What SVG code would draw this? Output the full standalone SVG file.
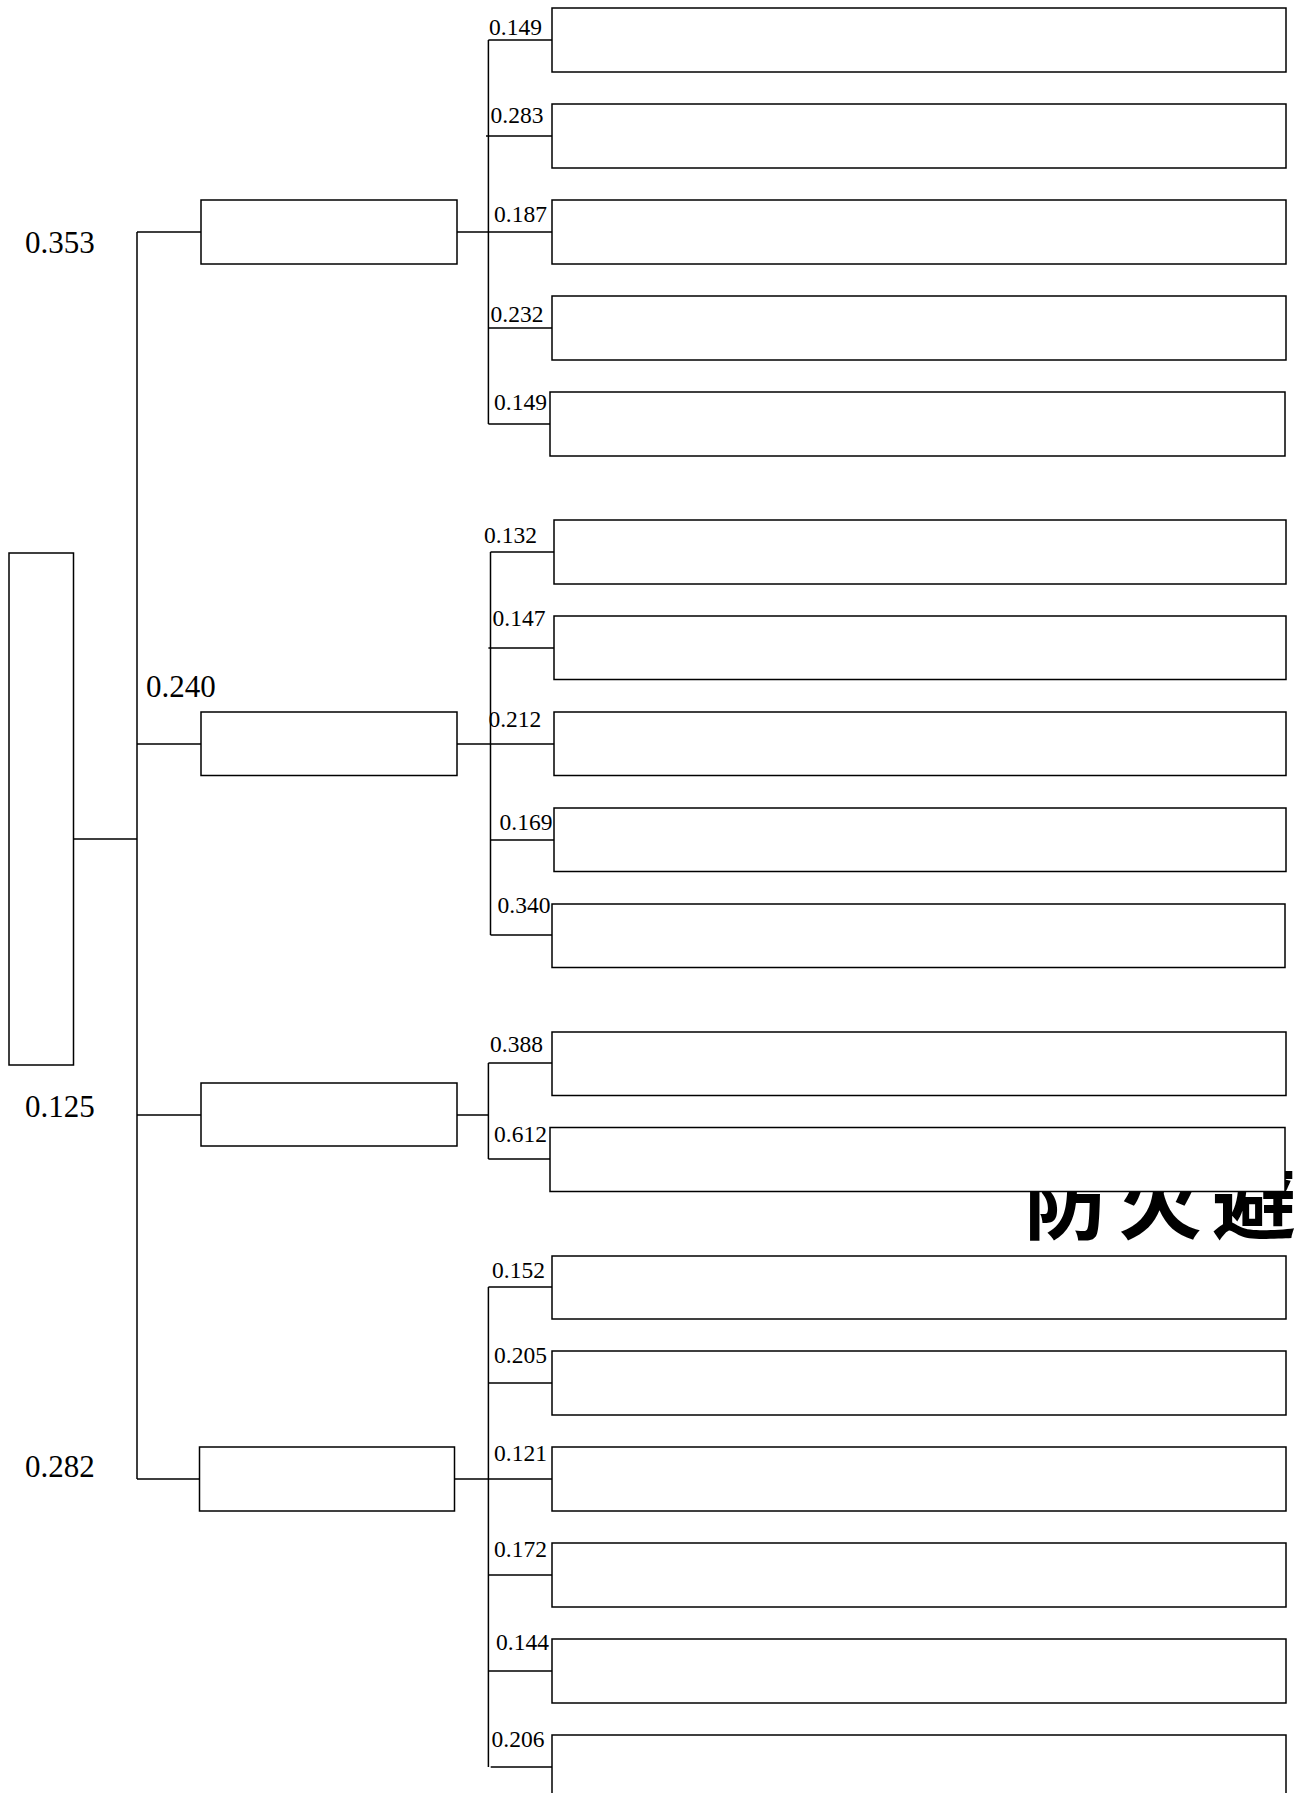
<svg xmlns="http://www.w3.org/2000/svg" width="1296" height="1793" viewBox="0 0 1296 1793">
<style>
.box{fill:#fff;stroke:#000;stroke-width:1.5}
.ln{fill:none;stroke:#000;stroke-width:1.5}
.s{font-family:"Liberation Serif","Times New Roman",serif;font-size:23.5px;fill:#000}
.b{font-family:"Liberation Serif","Times New Roman",serif;font-size:31px;fill:#000}
.cjk{font-family:"Noto Sans CJK SC","Noto Sans CJK JP",sans-serif;font-size:84px;font-weight:700;fill:#000;letter-spacing:10px}
</style>
<rect width="1296" height="1793" fill="#fff"/>
<text class="cjk" x="1024" y="1233">防火避</text>
<g id="connectors">
<path class="ln" d="M73.4 839H137M137 232V1479M137 232H201M137 744H201M137 1115H201M137 1479H201"/>
<path class="ln" d="M488.4 40V424M457 232H552M488.4 40H552M486 136H552M488.4 328H552M488.4 424H553.5"/>
<path class="ln" d="M490.5 552V935M457 744H554M490.5 552H554M488.4 648H554M490.5 840H554M490.5 935H555.5"/>
<path class="ln" d="M488.4 1063V1159M457 1115H488.4M488.4 1063H552M488.4 1159H553.5"/>
<path class="ln" d="M488.4 1287V1767M455 1479H552M488.4 1287H552M488.4 1383H552M488.4 1575H552M488.4 1671H552M490.7 1767H555"/>
</g>
<g id="root"><rect class="box" x="9" y="553" width="64.5" height="512"/></g>
<g id="l2-a"><rect class="box" x="201" y="200" width="256" height="64"/></g>
<g id="l2-b"><rect class="box" x="201" y="712" width="256" height="63.5"/></g>
<g id="l2-c"><rect class="box" x="201" y="1083" width="256" height="63"/></g>
<g id="l2-d"><rect class="box" x="199.5" y="1447" width="255" height="64"/></g>
<g id="g1-1"><rect class="box" x="552" y="8" width="734" height="64"/></g>
<g id="g1-2"><rect class="box" x="552" y="104" width="734" height="64"/></g>
<g id="g1-3"><rect class="box" x="552" y="200" width="734" height="64"/></g>
<g id="g1-4"><rect class="box" x="552" y="296" width="734" height="64"/></g>
<g id="g1-5"><rect class="box" x="550" y="392" width="735" height="64"/></g>
<g id="g2-1"><rect class="box" x="554" y="520" width="732" height="64"/></g>
<g id="g2-2"><rect class="box" x="554" y="616" width="732" height="63.5"/></g>
<g id="g2-3"><rect class="box" x="554" y="712" width="732" height="63.5"/></g>
<g id="g2-4"><rect class="box" x="554" y="808" width="732" height="63.5"/></g>
<g id="g2-5"><rect class="box" x="552" y="904" width="733" height="63.5"/></g>
<g id="g3-1"><rect class="box" x="552" y="1032" width="734" height="63.5"/></g>
<g id="g3-2"><rect class="box" x="550" y="1127.5" width="735" height="64"/></g>
<g id="g4-1"><rect class="box" x="552" y="1256" width="734" height="63"/></g>
<g id="g4-2"><rect class="box" x="552" y="1351" width="734" height="64"/></g>
<g id="g4-3"><rect class="box" x="552" y="1447" width="734" height="64"/></g>
<g id="g4-4"><rect class="box" x="552" y="1543" width="734" height="64"/></g>
<g id="g4-5"><rect class="box" x="552" y="1639" width="734" height="64"/></g>
<g id="g4-6"><rect class="box" x="552" y="1735" width="734" height="100"/></g>
<g id="labels">
<text class="b" x="25" y="253">0.353</text>
<text class="b" x="146" y="697">0.240</text>
<text class="b" x="25" y="1117">0.125</text>
<text class="b" x="25" y="1477">0.282</text>
<text class="s" x="489" y="35">0.149</text>
<text class="s" x="490.5" y="123">0.283</text>
<text class="s" x="494" y="221.5">0.187</text>
<text class="s" x="490.5" y="321.5">0.232</text>
<text class="s" x="494" y="410">0.149</text>
<text class="s" x="484" y="542.5">0.132</text>
<text class="s" x="492.5" y="626">0.147</text>
<text class="s" x="488.4" y="726.5">0.212</text>
<text class="s" x="499.5" y="830">0.169</text>
<text class="s" x="497.5" y="913">0.340</text>
<text class="s" x="490" y="1051.5">0.388</text>
<text class="s" x="494" y="1141.5">0.612</text>
<text class="s" x="492" y="1277.5">0.152</text>
<text class="s" x="494" y="1363">0.205</text>
<text class="s" x="494" y="1461">0.121</text>
<text class="s" x="494" y="1556.5">0.172</text>
<text class="s" x="496" y="1650">0.144</text>
<text class="s" x="491.5" y="1746.5">0.206</text>
</g>
</svg>
